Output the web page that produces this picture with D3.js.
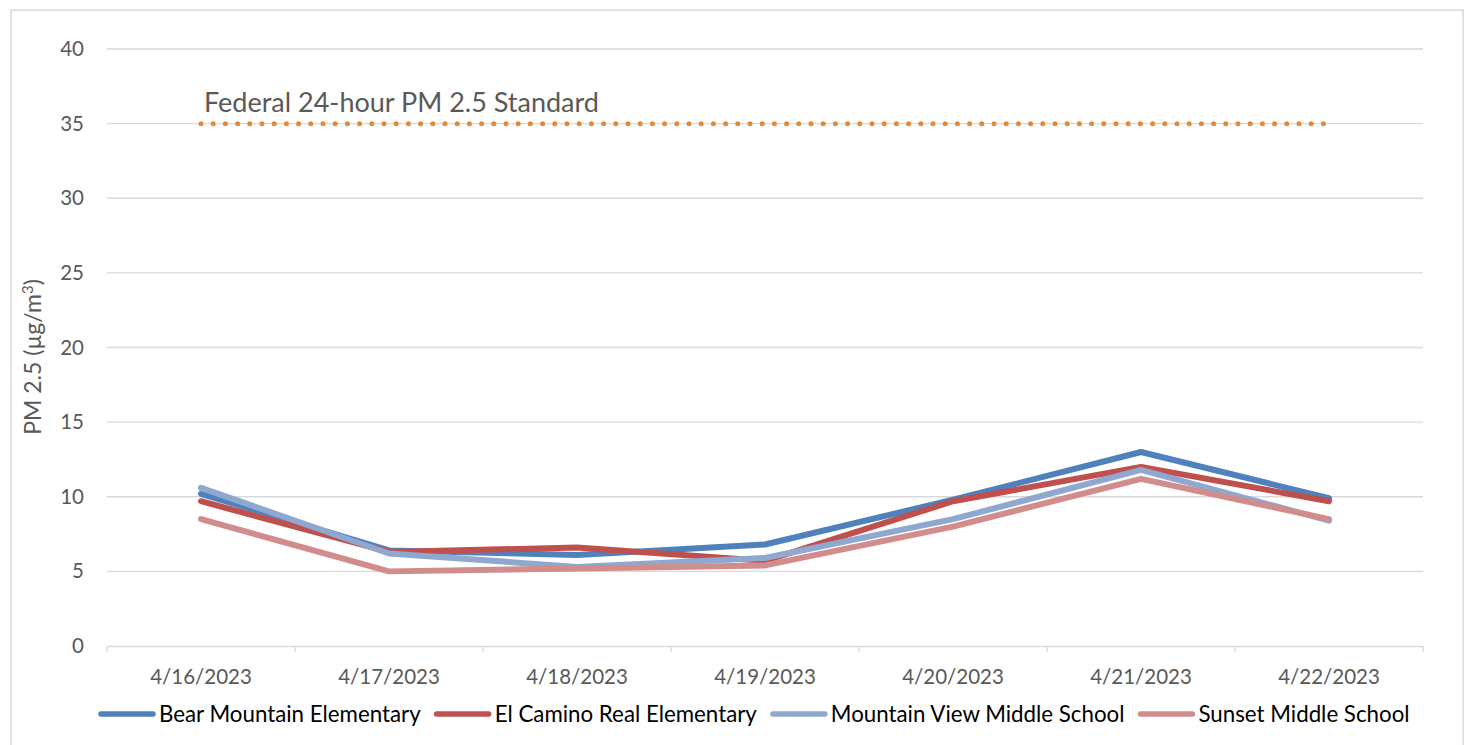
<!DOCTYPE html>
<html>
<head>
<meta charset="utf-8">
<script src="https://cdn.jsdelivr.net/npm/d3@7"></script>
<style>
  body { margin: 0; background: #fff; }
  text { font-family: Lato, "Open Sans", sans-serif; }
</style>
</head>
<body>
<svg id="chart"></svg>
<script>
// data
const dates = ["4/16/2023", "4/17/2023", "4/18/2023", "4/19/2023", "4/20/2023", "4/21/2023", "4/22/2023"];
const schools = ["Bear Mountain Elementary", "El Camino Real Elementary", "Mountain View Middle School", "Sunset Middle School"];
const bearMountain = [10.2, 6.4, 6.1, 6.8, 9.8, 13.0, 9.9];
const elCamino = [9.7, 6.3, 6.6, 5.7, 9.7, 12.0, 9.7];
const mountainView = [10.6, 6.2, 5.3, 5.9, 8.5, 11.8, 8.4];
const sunset = [8.5, 5.0, 5.2, 5.4, 8.0, 11.2, 8.5];
const federalStandard = 35;
const yTicks = [0, 5, 10, 15, 20, 25, 30, 35, 40];
const colors = ["#4F81BD", "#C0504D", "#8EA8D0", "#D08D8C"];

const series = [bearMountain, elCamino, mountainView, sunset];

const W = 1468, H = 745;
const margin = { top: 49, right: 45, bottom: 99, left: 107 };
const width = W - margin.left - margin.right;
const height = H - margin.top - margin.bottom;

const svg = d3.select("#chart").attr("width", W).attr("height", H);

// outer border
svg.append("rect")
  .attr("x", 11).attr("y", 10)
  .attr("width", 1452).attr("height", 760)
  .attr("fill", "none")
  .attr("stroke", "#d9d9d9")
  .attr("stroke-width", 1.5);

const g = svg.append("g").attr("transform", `translate(${margin.left},${margin.top})`);

const x = d3.scaleBand().domain(dates).range([0, width]);
const y = d3.scaleLinear().domain([0, 40]).range([height, 0]);

// gridlines
g.append("g")
  .selectAll("line")
  .data(yTicks.filter(d => d > 0))
  .enter()
  .append("line")
  .attr("x1", 0).attr("x2", width)
  .attr("y1", d => y(d)).attr("y2", d => y(d))
  .attr("stroke", "#d9d9d9")
  .attr("stroke-width", 1.3);

// y axis labels
const yAxis = g.append("g")
  .call(d3.axisLeft(y).tickValues(yTicks).tickSize(0).tickPadding(23));
yAxis.select(".domain").remove();
yAxis.selectAll("text")
  .attr("font-size", 20.5)
  .attr("fill", "#595959")
  .style("font-family", "Lato, sans-serif");

// x axis
const xAxis = g.append("g")
  .attr("transform", `translate(0,${height})`)
  .call(d3.axisBottom(x).tickSize(0).tickPadding(23));
xAxis.select(".domain").attr("stroke", "#d9d9d9").attr("stroke-width", 1.3);
xAxis.selectAll("text")
  .attr("font-size", 20.5)
  .attr("fill", "#595959")
  .style("font-family", "Lato, sans-serif");

// category boundary ticks
g.append("g")
  .selectAll("line")
  .data(d3.range(dates.length + 1))
  .enter()
  .append("line")
  .attr("x1", i => i * x.step()).attr("x2", i => i * x.step())
  .attr("y1", height).attr("y2", height + 6)
  .attr("stroke", "#d9d9d9")
  .attr("stroke-width", 1.3);

const cx = d => x(d) + x.bandwidth() / 2;

// federal standard (dotted)
g.append("line")
  .attr("x1", cx(dates[0]))
  .attr("x2", cx(dates[dates.length - 1]))
  .attr("y1", y(federalStandard)).attr("y2", y(federalStandard))
  .attr("stroke", "#E38A3A")
  .attr("stroke-width", 5)
  .attr("stroke-linecap", "round")
  .attr("stroke-dasharray", "0 12.2");

g.append("text")
  .attr("x", cx(dates[0]) + 3)
  .attr("y", y(federalStandard) - 12)
  .attr("font-size", 27)
  .attr("fill", "#595959")
  .text("Federal 24-hour PM 2.5 Standard");

// series lines
const line = d3.line()
  .x((d, i) => cx(dates[i]))
  .y(d => y(d));

g.append("g")
  .attr("fill", "none")
  .selectAll("path")
  .data(series)
  .enter()
  .append("path")
  .attr("d", line)
  .attr("stroke", (d, i) => colors[i])
  .attr("stroke-width", 6)
  .attr("stroke-linecap", "round")
  .attr("stroke-linejoin", "round");

// y axis title
const yTitle = svg.append("text")
  .attr("transform", "translate(41,357) rotate(-90)")
  .attr("text-anchor", "middle")
  .attr("font-size", 23)
  .attr("fill", "#595959");
yTitle.append("tspan").text("PM 2.5 (µg/m");
yTitle.append("tspan").attr("dy", -8).attr("font-size", 15).text("3");
yTitle.append("tspan").attr("dy", 8).text(")");

// legend
const legend = svg.append("g");
let lx = 101;
schools.forEach((name, i) => {
  const item = legend.append("g").attr("transform", `translate(${lx},714)`);
  item.append("line")
    .attr("x1", 0).attr("x2", 52)
    .attr("stroke", colors[i])
    .attr("stroke-width", 5.5)
    .attr("stroke-linecap", "round");
  const t = item.append("text")
    .attr("x", 58)
    .attr("y", 8)
    .attr("font-size", 22.3)
    .attr("fill", "#000")
    .text(name);
  lx += 58 + t.node().getComputedTextLength() + 16;
});
</script>
</body>
</html>
